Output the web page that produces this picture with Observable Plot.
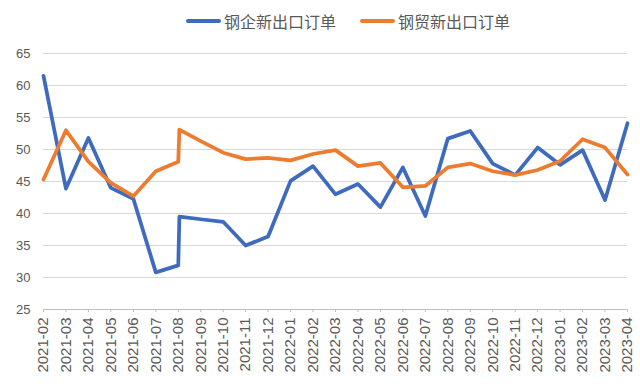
<!DOCTYPE html>
<html>
<head>
<meta charset="utf-8">
<script src="https://cdn.jsdelivr.net/npm/d3@7"></script>
<script src="https://cdn.jsdelivr.net/npm/@observablehq/plot@0.6"></script>
<style>
  html, body { margin: 0; padding: 0; background: #fff; }
  #wrap { width: 640px; height: 384px; position: relative; overflow: hidden; }
  #legend { height: 40px; position: relative; font-family: "Noto Sans CJK SC", sans-serif; font-size: 16px; color: #595959; }
  .item { position: absolute; top: 10px; display: flex; align-items: center; height: 22px; }
  .sw { width: 35px; height: 4px; border-radius: 2px; margin-right: 3px; }
  svg { display: block; }
</style>
</head>
<body>
<div id="wrap">
  <div id="legend"></div>
  <div id="chart"></div>
</div>
<script>
// Category labels on the x axis (monthly)
const months = ["2021-02","2021-03","2021-04","2021-05","2021-06","2021-07","2021-08","2021-09","2021-10","2021-11","2021-12",
  "2022-01","2022-02","2022-03","2022-04","2022-05","2022-06","2022-07","2022-08","2022-09","2022-10","2022-11","2022-12",
  "2023-01","2023-02","2023-03","2023-04"];

// Month of each data point (2021-08 has two observations)
const pointMonths = ["2021-02","2021-03","2021-04","2021-05","2021-06","2021-07","2021-08","2021-08","2021-09","2021-10","2021-11","2021-12",
  "2022-01","2022-02","2022-03","2022-04","2022-05","2022-06","2022-07","2022-08","2022-09","2022-10","2022-11","2022-12",
  "2023-01","2023-02","2023-03","2023-04"];

// 钢企新出口订单
const enterprise = [61.5,43.9,51.8,44.0,42.3,30.8,31.9,39.5,39.1,38.7,35.0,36.4,
  45.1,47.4,43.0,44.6,41.0,47.2,39.6,51.7,52.9,47.8,46.0,50.3,
  47.6,49.9,42.1,54.1];

// 钢贸新出口订单
const trade = [45.3,53.0,48.1,44.8,42.7,46.6,48.1,53.1,51.3,49.5,48.5,48.7,
  48.3,49.3,49.9,47.4,47.9,44.1,44.3,47.2,47.8,46.6,46.0,46.8,
  48.2,51.6,50.3,46.1];

const yTicks = [25,30,35,40,45,50,55,60,65];

const seriesNames = ["钢企新出口订单","钢贸新出口订单"];
const colors = ["#3f6bbf","#ec7c30"];

// position of each point along the month index; a repeated month is nudged slightly
function positions(pm) {
  const out = [];
  pm.forEach((m, i) => {
    let p = months.indexOf(m);
    if (i > 0 && pm[i - 1] === m) p += 0.05;
    out.push(p);
  });
  return out;
}
const xs = positions(pointMonths);
const rowsE = xs.map((x, i) => ({x, v: enterprise[i]}));
const rowsT = xs.map((x, i) => ({x, v: trade[i]}));

// legend
const legend = document.getElementById("legend");
const lefts = [186, 360];
seriesNames.forEach((n, i) => {
  const it = document.createElement("div");
  it.className = "item";
  it.style.left = lefts[i] + "px";
  it.innerHTML = `<span class="sw" style="background:${colors[i]}"></span><span>${n}</span>`;
  legend.appendChild(it);
});

const chart = Plot.plot({
  width: 640,
  height: 344,
  marginTop: 13,
  marginBottom: 75,
  marginLeft: 43,
  marginRight: 13,
  style: { fontFamily: "'Liberation Sans', Arial, sans-serif", background: "#fff" },
  x: { type: "linear", domain: [0, months.length - 1] },
  y: { domain: [25, 65] },
  marks: [
    Plot.gridY(yTicks, { stroke: "#d9d9d9", strokeOpacity: 1, strokeWidth: 1 }),
    Plot.ruleY([25], { stroke: "#bfbfbf", strokeWidth: 1 }),
    Plot.axisY({ ticks: yTicks, tickSize: 0, tickPadding: 13, fontSize: 13, fill: "#595959", label: null }),
    Plot.axisX({ ticks: d3.range(months.length), tickFormat: i => months[i], tickRotate: -90, tickSize: 3, tickPadding: 5,
      fontSize: 15, fill: "#595959", stroke: "#bfbfbf", label: null }),
    Plot.line(rowsE, { x: "x", y: "v", stroke: colors[0], strokeWidth: 3.75 }),
    Plot.line(rowsT, { x: "x", y: "v", stroke: colors[1], strokeWidth: 3.75 })
  ]
});
document.getElementById("chart").appendChild(chart);
</script>
</body>
</html>
